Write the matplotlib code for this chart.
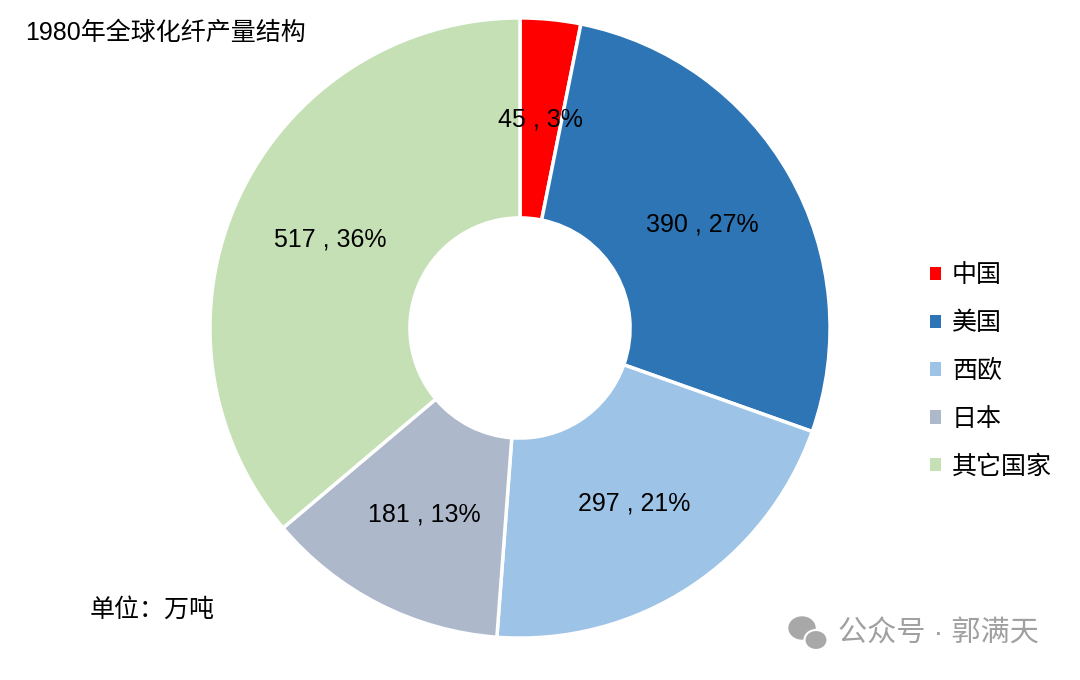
import matplotlib.pyplot as plt
from matplotlib.patches import Patch, Ellipse

plt.rcParams['font.family'] = ['Liberation Sans', 'Noto Sans CJK SC', 'DejaVu Sans']

countries = ['中国', '美国', '西欧', '日本', '其它国家']
output = [45, 390, 297, 181, 517]
colors = ['#FF0000', '#2E75B6', '#9DC3E6', '#ADB9CA', '#C5E0B4']
total = sum(output)

fig = plt.figure(figsize=(10.8, 6.8), dpi=100)
ax = fig.add_axes([209 / 1080, 41 / 680, 622 / 1080, 622 / 680])

wedges, texts, autotexts = ax.pie(output, colors=colors, startangle=90, counterclock=False,
                                  radius=1, autopct='%1.0f%%', pctdistance=0.675,
                                  wedgeprops=dict(width=0.645, edgecolor='white', linewidth=2.5),
                                  textprops=dict(fontsize=18, color='black'))
for t, v in zip(autotexts, output):
	t.set_text(f'{v} , {round(v / total * 100)}%')
ax.set_xlim(-1.003, 1.003)
ax.set_ylim(-1.003, 1.003)
ax.set_aspect('equal')

handles = [Patch(facecolor=c, edgecolor='none') for c in colors]
fig.legend(handles, countries, loc='upper left', bbox_to_anchor=(917 / 1080, 1 - 251 / 680),
           frameon=False, fontsize=18, handlelength=0.45, handleheight=0.45, handletextpad=0.45,
           labelspacing=0.95, borderpad=0)

fig.text(25 / 1080, 1 - 33 / 680, '1980年全球化纤产量结构', fontsize=18, va='center', ha='left')
fig.text(90 / 1080, 1 - 610 / 680, '单位：万吨', fontsize=18, va='center', ha='left')

# watermark
fig.text(838 / 1080, 1 - 634 / 680, '公众号 · 郭满天', fontsize=21, color='#A0A0A0', va='center', ha='left')
fig.patches.append(Ellipse((802 / 1080, 1 - 628 / 680), 26 / 1080, 22 / 680, color='#A8A8A8',
                           transform=fig.transFigure))
fig.patches.append(Ellipse((816 / 1080, 1 - 640 / 680), 23 / 1080, 20 / 680, facecolor='#A8A8A8',
                           edgecolor='white', linewidth=1.5, transform=fig.transFigure))

plt.savefig('out.png', dpi=100)
